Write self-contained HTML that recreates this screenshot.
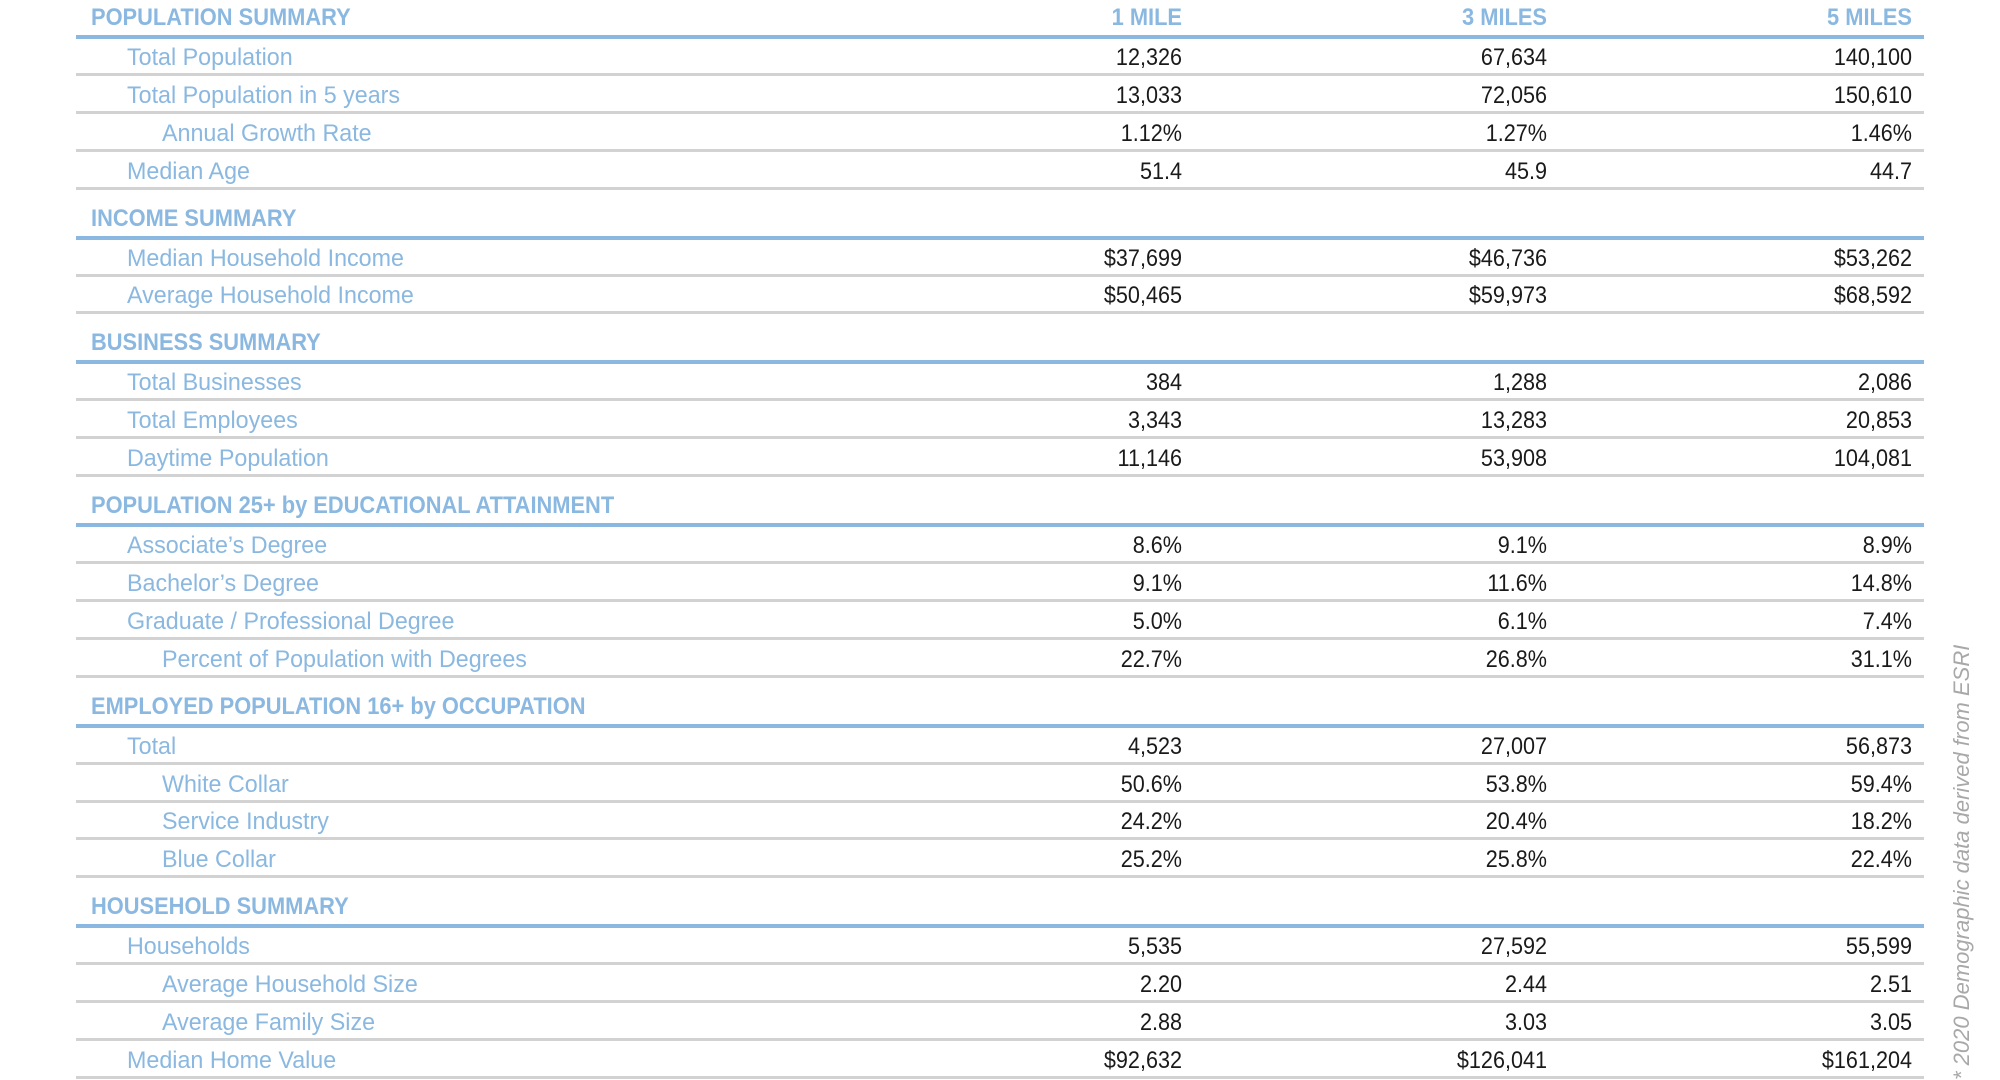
<!DOCTYPE html>
<html><head><meta charset="utf-8"><style>
html,body{margin:0;padding:0;background:#fff;}
#root{position:relative;width:2000px;height:1080px;overflow:hidden;font-family:"Liberation Sans",sans-serif;}
.hdr{position:absolute;left:91px;font-weight:bold;color:#8ab8e0;font-size:24px;white-space:nowrap;transform:scaleX(0.91);transform-origin:0 0;}
.colh{position:absolute;font-weight:bold;color:#8ab8e0;font-size:24px;text-align:right;width:200px;transform:scaleX(0.91);transform-origin:100% 0;}
.blue{position:absolute;left:76px;width:1848px;height:4px;background:#8ab8e0;}
.gray{position:absolute;left:76px;width:1848px;height:3px;background:#d2d2d2;}
.lbl{position:absolute;color:#8ab8e0;font-size:24px;white-space:nowrap;transform:scaleX(0.97);transform-origin:0 0;}
.val{position:absolute;color:#1a1a1a;font-size:24px;text-align:right;width:250px;white-space:nowrap;transform:scaleX(0.9);transform-origin:100% 0;}
.note{position:absolute;transform-origin:0 0;transform:rotate(-90deg);color:#a8a8a8;font-style:italic;font-size:22px;white-space:nowrap;}
</style></head><body>
<div id="root">
<div class="note" style="top:1080px;left:1949px">* 2020 Demographic data derived from ESRI</div>
</div>
<script>
const columns = ["1 MILE","3 MILES","5 MILES"];
const sections = ["POPULATION SUMMARY","INCOME SUMMARY","BUSINESS SUMMARY","POPULATION 25+ by EDUCATIONAL ATTAINMENT","EMPLOYED POPULATION 16+ by OCCUPATION","HOUSEHOLD SUMMARY"];
const rowSection = [0,0,0,0,1,1,2,2,2,3,3,3,3,4,4,4,4,5,5,5,5];
const rowLabels = ["Total Population","Total Population in 5 years","Annual Growth Rate","Median Age","Median Household Income","Average Household Income","Total Businesses","Total Employees","Daytime Population","Associate’s Degree","Bachelor’s Degree","Graduate / Professional Degree","Percent of Population with Degrees","Total","White Collar","Service Industry","Blue Collar","Households","Average Household Size","Average Family Size","Median Home Value"];
const rowIndent = [0,0,1,0,0,0,0,0,0,0,0,0,1,0,1,1,1,0,1,1,0];
const mile1 = ["12,326","13,033","1.12%","51.4","$37,699","$50,465","384","3,343","11,146","8.6%","9.1%","5.0%","22.7%","4,523","50.6%","24.2%","25.2%","5,535","2.20","2.88","$92,632"];
const mile3 = ["67,634","72,056","1.27%","45.9","$46,736","$59,973","1,288","13,283","53,908","9.1%","11.6%","6.1%","26.8%","27,007","53.8%","20.4%","25.8%","27,592","2.44","3.03","$126,041"];
const mile5 = ["140,100","150,610","1.46%","44.7","$53,262","$68,592","2,086","20,853","104,081","8.9%","14.8%","7.4%","31.1%","56,873","59.4%","18.2%","22.4%","55,599","2.51","3.05","$161,204"];

const root = document.getElementById('root');
const colRight = [1182,1547,1912];
const R = 37.9, H = 49;
function mk(cls, txt, top, left){
  const d = document.createElement('div');
  d.className = cls; d.textContent = txt; d.style.top = top+'px';
  if (left !== undefined) d.style.left = left+'px';
  root.appendChild(d); return d;
}
let y = 36;
let prev = -1;
const valsByCol = [mile1, mile3, mile5];
for (let i = 0; i < rowLabels.length; i++) {
  if (rowSection[i] !== prev) {
    prev = rowSection[i];
    if (i > 0) y += H;
    const h = mk('hdr', sections[prev], y - 32);
    
    
    const b = mk('blue', '', y - 1);
    
    
    if (i === 0) {
      columns.forEach((c, k) => {
        const ch = mk('colh', c, y - 32, colRight[k] - 200);
        
        
      });
    }
  }
  const bottom = y + R;
  const l = mk('lbl', rowLabels[i], bottom - 30, rowIndent[i] ? 162 : 127);
  
  
  valsByCol.forEach((arr, k) => {
    const v = mk('val', arr[i], bottom - 30, colRight[k] - 250);
    
    
  });
  const g = mk('gray', '', bottom - 1);
  
  
  y = bottom;
}
</script>
</body></html>
